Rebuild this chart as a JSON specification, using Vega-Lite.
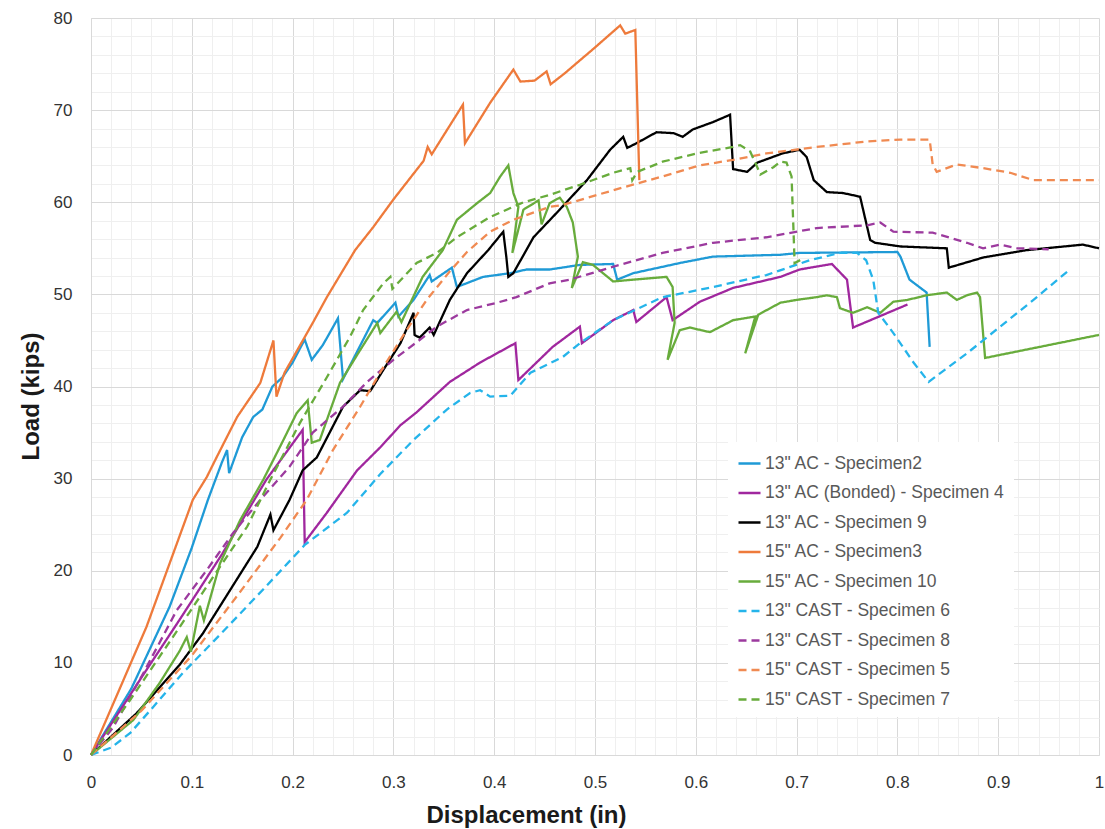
{
  "$schema": "https://vega.github.io/schema/vega-lite/v6.json",
  "width": 1008,
  "height": 737,
  "autosize": {"type": "none"},
  "padding": {"left": 91, "top": 18, "right": 6, "bottom": 74},
  "background": "white",
  "config": {"view": {"stroke": null}, "font": "Liberation Sans"},
  "data": {"values": [
    {"s":"13\" AC - Specimen2","x":0,"y":0},{"s":"13\" AC - Specimen2","x":0.04,"y":7.2},{"s":"13\" AC - Specimen2","x":0.078,"y":16.1},{"s":"13\" AC - Specimen2","x":0.1,"y":22.5},{"s":"13\" AC - Specimen2","x":0.116,"y":27.7},{"s":"13\" AC - Specimen2","x":0.13,"y":31.8},{"s":"13\" AC - Specimen2","x":0.135,"y":33.1},{"s":"13\" AC - Specimen2","x":0.137,"y":30.6},{"s":"13\" AC - Specimen2","x":0.15,"y":34.5},{"s":"13\" AC - Specimen2","x":0.161,"y":36.7},{"s":"13\" AC - Specimen2","x":0.17,"y":37.5},{"s":"13\" AC - Specimen2","x":0.18,"y":40},{"s":"13\" AC - Specimen2","x":0.19,"y":41},{"s":"13\" AC - Specimen2","x":0.2,"y":42.6},{"s":"13\" AC - Specimen2","x":0.212,"y":45.1},{"s":"13\" AC - Specimen2","x":0.219,"y":42.9},{"s":"13\" AC - Specimen2","x":0.23,"y":44.5},{"s":"13\" AC - Specimen2","x":0.245,"y":47.4},{"s":"13\" AC - Specimen2","x":0.25,"y":40.8},{"s":"13\" AC - Specimen2","x":0.265,"y":44},{"s":"13\" AC - Specimen2","x":0.28,"y":47.2},{"s":"13\" AC - Specimen2","x":0.284,"y":46.9},{"s":"13\" AC - Specimen2","x":0.302,"y":49.1},{"s":"13\" AC - Specimen2","x":0.305,"y":47.6},{"s":"13\" AC - Specimen2","x":0.32,"y":49.4},{"s":"13\" AC - Specimen2","x":0.336,"y":52.1},{"s":"13\" AC - Specimen2","x":0.338,"y":51.4},{"s":"13\" AC - Specimen2","x":0.358,"y":52.9},{"s":"13\" AC - Specimen2","x":0.363,"y":50.8},{"s":"13\" AC - Specimen2","x":0.389,"y":51.9},{"s":"13\" AC - Specimen2","x":0.416,"y":52.3},{"s":"13\" AC - Specimen2","x":0.432,"y":52.7},{"s":"13\" AC - Specimen2","x":0.455,"y":52.7},{"s":"13\" AC - Specimen2","x":0.485,"y":53.2},{"s":"13\" AC - Specimen2","x":0.518,"y":53.3},{"s":"13\" AC - Specimen2","x":0.522,"y":51.6},{"s":"13\" AC - Specimen2","x":0.538,"y":52.3},{"s":"13\" AC - Specimen2","x":0.584,"y":53.4},{"s":"13\" AC - Specimen2","x":0.617,"y":54.1},{"s":"13\" AC - Specimen2","x":0.684,"y":54.3},{"s":"13\" AC - Specimen2","x":0.703,"y":54.5},{"s":"13\" AC - Specimen2","x":0.8,"y":54.6},{"s":"13\" AC - Specimen2","x":0.803,"y":54.1},{"s":"13\" AC - Specimen2","x":0.812,"y":51.6},{"s":"13\" AC - Specimen2","x":0.829,"y":50.2},{"s":"13\" AC - Specimen2","x":0.832,"y":44.3},

    {"s":"13\" AC (Bonded) - Specimen 4","x":0,"y":0},{"s":"13\" AC (Bonded) - Specimen 4","x":0.05,"y":8.4},{"s":"13\" AC (Bonded) - Specimen 4","x":0.088,"y":14.7},{"s":"13\" AC (Bonded) - Specimen 4","x":0.13,"y":21.8},{"s":"13\" AC (Bonded) - Specimen 4","x":0.174,"y":29.9},{"s":"13\" AC (Bonded) - Specimen 4","x":0.21,"y":35.3},{"s":"13\" AC (Bonded) - Specimen 4","x":0.212,"y":23.1},{"s":"13\" AC (Bonded) - Specimen 4","x":0.234,"y":26.3},{"s":"13\" AC (Bonded) - Specimen 4","x":0.264,"y":30.9},{"s":"13\" AC (Bonded) - Specimen 4","x":0.287,"y":33.4},{"s":"13\" AC (Bonded) - Specimen 4","x":0.307,"y":35.8},{"s":"13\" AC (Bonded) - Specimen 4","x":0.323,"y":37.2},{"s":"13\" AC (Bonded) - Specimen 4","x":0.356,"y":40.5},{"s":"13\" AC (Bonded) - Specimen 4","x":0.386,"y":42.6},{"s":"13\" AC (Bonded) - Specimen 4","x":0.421,"y":44.7},{"s":"13\" AC (Bonded) - Specimen 4","x":0.424,"y":40.7},{"s":"13\" AC (Bonded) - Specimen 4","x":0.458,"y":44.3},{"s":"13\" AC (Bonded) - Specimen 4","x":0.485,"y":46.5},{"s":"13\" AC (Bonded) - Specimen 4","x":0.487,"y":44.7},{"s":"13\" AC (Bonded) - Specimen 4","x":0.518,"y":47.2},{"s":"13\" AC (Bonded) - Specimen 4","x":0.538,"y":48.3},{"s":"13\" AC (Bonded) - Specimen 4","x":0.541,"y":47},{"s":"13\" AC (Bonded) - Specimen 4","x":0.571,"y":49.7},{"s":"13\" AC (Bonded) - Specimen 4","x":0.577,"y":47.2},{"s":"13\" AC (Bonded) - Specimen 4","x":0.604,"y":49.2},{"s":"13\" AC (Bonded) - Specimen 4","x":0.637,"y":50.7},{"s":"13\" AC (Bonded) - Specimen 4","x":0.684,"y":51.9},{"s":"13\" AC (Bonded) - Specimen 4","x":0.703,"y":52.7},{"s":"13\" AC (Bonded) - Specimen 4","x":0.735,"y":53.3},{"s":"13\" AC (Bonded) - Specimen 4","x":0.75,"y":51.6},{"s":"13\" AC (Bonded) - Specimen 4","x":0.756,"y":46.4},{"s":"13\" AC (Bonded) - Specimen 4","x":0.81,"y":48.9},

    {"s":"13\" AC - Specimen 9","x":0,"y":0},{"s":"13\" AC - Specimen 9","x":0.045,"y":4.5},{"s":"13\" AC - Specimen 9","x":0.088,"y":9.8},{"s":"13\" AC - Specimen 9","x":0.111,"y":13.2},{"s":"13\" AC - Specimen 9","x":0.138,"y":17.9},{"s":"13\" AC - Specimen 9","x":0.165,"y":22.6},{"s":"13\" AC - Specimen 9","x":0.178,"y":26.1},{"s":"13\" AC - Specimen 9","x":0.181,"y":24.4},{"s":"13\" AC - Specimen 9","x":0.197,"y":27.7},{"s":"13\" AC - Specimen 9","x":0.21,"y":30.9},{"s":"13\" AC - Specimen 9","x":0.224,"y":32.3},{"s":"13\" AC - Specimen 9","x":0.25,"y":37.8},{"s":"13\" AC - Specimen 9","x":0.267,"y":39.6},{"s":"13\" AC - Specimen 9","x":0.277,"y":39.5},{"s":"13\" AC - Specimen 9","x":0.29,"y":41.8},{"s":"13\" AC - Specimen 9","x":0.307,"y":44.7},{"s":"13\" AC - Specimen 9","x":0.32,"y":48},{"s":"13\" AC - Specimen 9","x":0.321,"y":45.6},{"s":"13\" AC - Specimen 9","x":0.326,"y":45.3},{"s":"13\" AC - Specimen 9","x":0.336,"y":46.4},{"s":"13\" AC - Specimen 9","x":0.34,"y":45.6},{"s":"13\" AC - Specimen 9","x":0.356,"y":49.4},{"s":"13\" AC - Specimen 9","x":0.373,"y":52.3},{"s":"13\" AC - Specimen 9","x":0.394,"y":54.8},{"s":"13\" AC - Specimen 9","x":0.409,"y":56.8},{"s":"13\" AC - Specimen 9","x":0.412,"y":54.1},{"s":"13\" AC - Specimen 9","x":0.414,"y":51.9},{"s":"13\" AC - Specimen 9","x":0.419,"y":52.3},{"s":"13\" AC - Specimen 9","x":0.439,"y":56.2},{"s":"13\" AC - Specimen 9","x":0.465,"y":59.2},{"s":"13\" AC - Specimen 9","x":0.492,"y":62.4},{"s":"13\" AC - Specimen 9","x":0.515,"y":65.7},{"s":"13\" AC - Specimen 9","x":0.528,"y":67.1},{"s":"13\" AC - Specimen 9","x":0.532,"y":65.9},{"s":"13\" AC - Specimen 9","x":0.541,"y":66.4},{"s":"13\" AC - Specimen 9","x":0.561,"y":67.6},{"s":"13\" AC - Specimen 9","x":0.578,"y":67.5},{"s":"13\" AC - Specimen 9","x":0.587,"y":67.1},{"s":"13\" AC - Specimen 9","x":0.597,"y":67.9},{"s":"13\" AC - Specimen 9","x":0.617,"y":68.7},{"s":"13\" AC - Specimen 9","x":0.634,"y":69.5},{"s":"13\" AC - Specimen 9","x":0.637,"y":63.6},{"s":"13\" AC - Specimen 9","x":0.651,"y":63.3},{"s":"13\" AC - Specimen 9","x":0.661,"y":64.3},{"s":"13\" AC - Specimen 9","x":0.686,"y":65.3},{"s":"13\" AC - Specimen 9","x":0.703,"y":65.7},{"s":"13\" AC - Specimen 9","x":0.71,"y":64.9},{"s":"13\" AC - Specimen 9","x":0.717,"y":62.4},{"s":"13\" AC - Specimen 9","x":0.73,"y":61.1},{"s":"13\" AC - Specimen 9","x":0.746,"y":61},{"s":"13\" AC - Specimen 9","x":0.763,"y":60.6},{"s":"13\" AC - Specimen 9","x":0.773,"y":55.9},{"s":"13\" AC - Specimen 9","x":0.778,"y":55.6},{"s":"13\" AC - Specimen 9","x":0.803,"y":55.2},{"s":"13\" AC - Specimen 9","x":0.849,"y":55},{"s":"13\" AC - Specimen 9","x":0.851,"y":52.9},{"s":"13\" AC - Specimen 9","x":0.885,"y":54},{"s":"13\" AC - Specimen 9","x":0.928,"y":54.8},{"s":"13\" AC - Specimen 9","x":0.984,"y":55.4},{"s":"13\" AC - Specimen 9","x":1.0,"y":55},

    {"s":"15\" AC - Specimen3","x":0,"y":0},{"s":"15\" AC - Specimen3","x":0.055,"y":13.9},{"s":"15\" AC - Specimen3","x":0.101,"y":27.7},{"s":"15\" AC - Specimen3","x":0.115,"y":30.2},{"s":"15\" AC - Specimen3","x":0.125,"y":32.4},{"s":"15\" AC - Specimen3","x":0.145,"y":36.7},{"s":"15\" AC - Specimen3","x":0.168,"y":40.4},{"s":"15\" AC - Specimen3","x":0.181,"y":45},{"s":"15\" AC - Specimen3","x":0.184,"y":38.9},{"s":"15\" AC - Specimen3","x":0.192,"y":41.5},{"s":"15\" AC - Specimen3","x":0.22,"y":46.9},{"s":"15\" AC - Specimen3","x":0.234,"y":49.7},{"s":"15\" AC - Specimen3","x":0.262,"y":54.8},{"s":"15\" AC - Specimen3","x":0.28,"y":57.3},{"s":"15\" AC - Specimen3","x":0.29,"y":58.8},{"s":"15\" AC - Specimen3","x":0.3,"y":60.3},{"s":"15\" AC - Specimen3","x":0.33,"y":64.5},{"s":"15\" AC - Specimen3","x":0.334,"y":66},{"s":"15\" AC - Specimen3","x":0.338,"y":65.2},{"s":"15\" AC - Specimen3","x":0.369,"y":70.6},{"s":"15\" AC - Specimen3","x":0.371,"y":66.4},{"s":"15\" AC - Specimen3","x":0.396,"y":70.8},{"s":"15\" AC - Specimen3","x":0.419,"y":74.4},{"s":"15\" AC - Specimen3","x":0.426,"y":73.1},{"s":"15\" AC - Specimen3","x":0.44,"y":73.2},{"s":"15\" AC - Specimen3","x":0.452,"y":74.2},{"s":"15\" AC - Specimen3","x":0.456,"y":72.8},{"s":"15\" AC - Specimen3","x":0.47,"y":74},{"s":"15\" AC - Specimen3","x":0.5,"y":76.8},{"s":"15\" AC - Specimen3","x":0.525,"y":79.2},{"s":"15\" AC - Specimen3","x":0.53,"y":78.3},{"s":"15\" AC - Specimen3","x":0.54,"y":78.7},{"s":"15\" AC - Specimen3","x":0.544,"y":62.4},

    {"s":"15\" AC - Specimen 10","x":0,"y":0},{"s":"15\" AC - Specimen 10","x":0.042,"y":3.8},{"s":"15\" AC - Specimen 10","x":0.068,"y":7.8},{"s":"15\" AC - Specimen 10","x":0.088,"y":11.3},{"s":"15\" AC - Specimen 10","x":0.095,"y":12.8},{"s":"15\" AC - Specimen 10","x":0.099,"y":11.2},{"s":"15\" AC - Specimen 10","x":0.108,"y":16.2},{"s":"15\" AC - Specimen 10","x":0.112,"y":14.6},{"s":"15\" AC - Specimen 10","x":0.128,"y":20.8},{"s":"15\" AC - Specimen 10","x":0.148,"y":25.5},{"s":"15\" AC - Specimen 10","x":0.171,"y":29.9},{"s":"15\" AC - Specimen 10","x":0.19,"y":34},{"s":"15\" AC - Specimen 10","x":0.204,"y":37.1},{"s":"15\" AC - Specimen 10","x":0.215,"y":38.5},{"s":"15\" AC - Specimen 10","x":0.219,"y":33.9},{"s":"15\" AC - Specimen 10","x":0.227,"y":34.2},{"s":"15\" AC - Specimen 10","x":0.247,"y":40.4},{"s":"15\" AC - Specimen 10","x":0.265,"y":43.6},{"s":"15\" AC - Specimen 10","x":0.284,"y":46.9},{"s":"15\" AC - Specimen 10","x":0.287,"y":45.8},{"s":"15\" AC - Specimen 10","x":0.303,"y":48.1},{"s":"15\" AC - Specimen 10","x":0.308,"y":47},{"s":"15\" AC - Specimen 10","x":0.329,"y":51.9},{"s":"15\" AC - Specimen 10","x":0.349,"y":54.8},{"s":"15\" AC - Specimen 10","x":0.363,"y":58.1},{"s":"15\" AC - Specimen 10","x":0.383,"y":59.9},{"s":"15\" AC - Specimen 10","x":0.396,"y":61},{"s":"15\" AC - Specimen 10","x":0.406,"y":62.8},{"s":"15\" AC - Specimen 10","x":0.414,"y":64},{"s":"15\" AC - Specimen 10","x":0.419,"y":61},{"s":"15\" AC - Specimen 10","x":0.424,"y":59.5},{"s":"15\" AC - Specimen 10","x":0.418,"y":54.5},{"s":"15\" AC - Specimen 10","x":0.429,"y":59.2},{"s":"15\" AC - Specimen 10","x":0.444,"y":60.2},{"s":"15\" AC - Specimen 10","x":0.447,"y":57.6},{"s":"15\" AC - Specimen 10","x":0.455,"y":59.9},{"s":"15\" AC - Specimen 10","x":0.465,"y":60.5},{"s":"15\" AC - Specimen 10","x":0.472,"y":59.5},{"s":"15\" AC - Specimen 10","x":0.478,"y":57.8},{"s":"15\" AC - Specimen 10","x":0.483,"y":54.1},{"s":"15\" AC - Specimen 10","x":0.477,"y":50.7},{"s":"15\" AC - Specimen 10","x":0.488,"y":53.5},{"s":"15\" AC - Specimen 10","x":0.498,"y":53.2},{"s":"15\" AC - Specimen 10","x":0.518,"y":51.4},{"s":"15\" AC - Specimen 10","x":0.538,"y":51.6},{"s":"15\" AC - Specimen 10","x":0.571,"y":51.9},{"s":"15\" AC - Specimen 10","x":0.577,"y":50.8},{"s":"15\" AC - Specimen 10","x":0.579,"y":46.9},{"s":"15\" AC - Specimen 10","x":0.572,"y":42.9},{"s":"15\" AC - Specimen 10","x":0.584,"y":46.1},{"s":"15\" AC - Specimen 10","x":0.594,"y":46.4},{"s":"15\" AC - Specimen 10","x":0.614,"y":45.9},{"s":"15\" AC - Specimen 10","x":0.637,"y":47.2},{"s":"15\" AC - Specimen 10","x":0.659,"y":47.6},{"s":"15\" AC - Specimen 10","x":0.649,"y":43.6},{"s":"15\" AC - Specimen 10","x":0.662,"y":47.8},{"s":"15\" AC - Specimen 10","x":0.684,"y":49.1},{"s":"15\" AC - Specimen 10","x":0.7,"y":49.4},{"s":"15\" AC - Specimen 10","x":0.72,"y":49.7},{"s":"15\" AC - Specimen 10","x":0.73,"y":49.9},{"s":"15\" AC - Specimen 10","x":0.74,"y":49.7},{"s":"15\" AC - Specimen 10","x":0.743,"y":48.5},{"s":"15\" AC - Specimen 10","x":0.756,"y":48},{"s":"15\" AC - Specimen 10","x":0.77,"y":48.6},{"s":"15\" AC - Specimen 10","x":0.783,"y":48},{"s":"15\" AC - Specimen 10","x":0.796,"y":49.2},{"s":"15\" AC - Specimen 10","x":0.81,"y":49.4},{"s":"15\" AC - Specimen 10","x":0.829,"y":49.9},{"s":"15\" AC - Specimen 10","x":0.849,"y":50.2},{"s":"15\" AC - Specimen 10","x":0.859,"y":49.4},{"s":"15\" AC - Specimen 10","x":0.869,"y":49.9},{"s":"15\" AC - Specimen 10","x":0.879,"y":50.2},{"s":"15\" AC - Specimen 10","x":0.882,"y":49.7},{"s":"15\" AC - Specimen 10","x":0.887,"y":43.1},{"s":"15\" AC - Specimen 10","x":1.0,"y":45.6},

    {"s":"13\" CAST - Specimen 6","x":0,"y":0},{"s":"13\" CAST - Specimen 6","x":0.02,"y":0.8},{"s":"13\" CAST - Specimen 6","x":0.039,"y":2.4},{"s":"13\" CAST - Specimen 6","x":0.06,"y":5},{"s":"13\" CAST - Specimen 6","x":0.091,"y":8.9},{"s":"13\" CAST - Specimen 6","x":0.131,"y":13.4},{"s":"13\" CAST - Specimen 6","x":0.171,"y":18},{"s":"13\" CAST - Specimen 6","x":0.212,"y":22.8},{"s":"13\" CAST - Specimen 6","x":0.254,"y":26.3},{"s":"13\" CAST - Specimen 6","x":0.287,"y":30.5},{"s":"13\" CAST - Specimen 6","x":0.32,"y":34.2},{"s":"13\" CAST - Specimen 6","x":0.353,"y":37.5},{"s":"13\" CAST - Specimen 6","x":0.376,"y":39.3},{"s":"13\" CAST - Specimen 6","x":0.386,"y":39.6},{"s":"13\" CAST - Specimen 6","x":0.396,"y":38.9},{"s":"13\" CAST - Specimen 6","x":0.416,"y":39},{"s":"13\" CAST - Specimen 6","x":0.436,"y":41.5},{"s":"13\" CAST - Specimen 6","x":0.468,"y":43.2},{"s":"13\" CAST - Specimen 6","x":0.485,"y":44.7},{"s":"13\" CAST - Specimen 6","x":0.518,"y":47.2},{"s":"13\" CAST - Specimen 6","x":0.567,"y":49.7},{"s":"13\" CAST - Specimen 6","x":0.604,"y":50.5},{"s":"13\" CAST - Specimen 6","x":0.617,"y":50.8},{"s":"13\" CAST - Specimen 6","x":0.67,"y":52.1},{"s":"13\" CAST - Specimen 6","x":0.713,"y":53.7},{"s":"13\" CAST - Specimen 6","x":0.743,"y":54.5},{"s":"13\" CAST - Specimen 6","x":0.76,"y":54.5},{"s":"13\" CAST - Specimen 6","x":0.769,"y":53.7},{"s":"13\" CAST - Specimen 6","x":0.776,"y":51.6},{"s":"13\" CAST - Specimen 6","x":0.781,"y":48},{"s":"13\" CAST - Specimen 6","x":0.796,"y":45.8},{"s":"13\" CAST - Specimen 6","x":0.816,"y":42.6},{"s":"13\" CAST - Specimen 6","x":0.831,"y":40.5},{"s":"13\" CAST - Specimen 6","x":0.869,"y":43.6},{"s":"13\" CAST - Specimen 6","x":0.902,"y":46.5},{"s":"13\" CAST - Specimen 6","x":0.935,"y":49.4},{"s":"13\" CAST - Specimen 6","x":0.971,"y":52.7},

    {"s":"13\" CAST - Specimen 8","x":0,"y":0},{"s":"13\" CAST - Specimen 8","x":0.022,"y":3},{"s":"13\" CAST - Specimen 8","x":0.052,"y":8.9},{"s":"13\" CAST - Specimen 8","x":0.085,"y":15.7},{"s":"13\" CAST - Specimen 8","x":0.115,"y":20.1},{"s":"13\" CAST - Specimen 8","x":0.141,"y":24.1},{"s":"13\" CAST - Specimen 8","x":0.168,"y":27.7},{"s":"13\" CAST - Specimen 8","x":0.197,"y":31.3},{"s":"13\" CAST - Specimen 8","x":0.22,"y":35},{"s":"13\" CAST - Specimen 8","x":0.25,"y":37.8},{"s":"13\" CAST - Specimen 8","x":0.274,"y":40.5},{"s":"13\" CAST - Specimen 8","x":0.3,"y":42.9},{"s":"13\" CAST - Specimen 8","x":0.323,"y":44.8},{"s":"13\" CAST - Specimen 8","x":0.343,"y":46.5},{"s":"13\" CAST - Specimen 8","x":0.373,"y":48.3},{"s":"13\" CAST - Specimen 8","x":0.403,"y":49.1},{"s":"13\" CAST - Specimen 8","x":0.422,"y":49.7},{"s":"13\" CAST - Specimen 8","x":0.455,"y":51.2},{"s":"13\" CAST - Specimen 8","x":0.475,"y":51.6},{"s":"13\" CAST - Specimen 8","x":0.518,"y":53},{"s":"13\" CAST - Specimen 8","x":0.567,"y":54.5},{"s":"13\" CAST - Specimen 8","x":0.617,"y":55.6},{"s":"13\" CAST - Specimen 8","x":0.67,"y":56.2},{"s":"13\" CAST - Specimen 8","x":0.72,"y":57.2},{"s":"13\" CAST - Specimen 8","x":0.77,"y":57.5},{"s":"13\" CAST - Specimen 8","x":0.783,"y":57.8},{"s":"13\" CAST - Specimen 8","x":0.796,"y":56.8},{"s":"13\" CAST - Specimen 8","x":0.835,"y":56.7},{"s":"13\" CAST - Specimen 8","x":0.869,"y":55.6},{"s":"13\" CAST - Specimen 8","x":0.885,"y":55},{"s":"13\" CAST - Specimen 8","x":0.902,"y":55.4},{"s":"13\" CAST - Specimen 8","x":0.919,"y":55},{"s":"13\" CAST - Specimen 8","x":0.95,"y":54.9},

    {"s":"15\" CAST - Specimen 5","x":0,"y":0},{"s":"15\" CAST - Specimen 5","x":0.05,"y":4.8},{"s":"15\" CAST - Specimen 5","x":0.1,"y":10.8},{"s":"15\" CAST - Specimen 5","x":0.15,"y":18},{"s":"15\" CAST - Specimen 5","x":0.188,"y":23.6},{"s":"15\" CAST - Specimen 5","x":0.214,"y":27.7},{"s":"15\" CAST - Specimen 5","x":0.24,"y":33.1},{"s":"15\" CAST - Specimen 5","x":0.267,"y":37.8},{"s":"15\" CAST - Specimen 5","x":0.29,"y":42.1},{"s":"15\" CAST - Specimen 5","x":0.313,"y":46.1},{"s":"15\" CAST - Specimen 5","x":0.333,"y":49.4},{"s":"15\" CAST - Specimen 5","x":0.356,"y":52.5},{"s":"15\" CAST - Specimen 5","x":0.373,"y":54.6},{"s":"15\" CAST - Specimen 5","x":0.396,"y":56.8},{"s":"15\" CAST - Specimen 5","x":0.419,"y":58.1},{"s":"15\" CAST - Specimen 5","x":0.455,"y":59.5},{"s":"15\" CAST - Specimen 5","x":0.468,"y":59.7},{"s":"15\" CAST - Specimen 5","x":0.518,"y":61.3},{"s":"15\" CAST - Specimen 5","x":0.567,"y":62.8},{"s":"15\" CAST - Specimen 5","x":0.604,"y":64},{"s":"15\" CAST - Specimen 5","x":0.637,"y":64.6},{"s":"15\" CAST - Specimen 5","x":0.67,"y":65.3},{"s":"15\" CAST - Specimen 5","x":0.72,"y":66},{"s":"15\" CAST - Specimen 5","x":0.77,"y":66.6},{"s":"15\" CAST - Specimen 5","x":0.803,"y":66.8},{"s":"15\" CAST - Specimen 5","x":0.832,"y":66.8},{"s":"15\" CAST - Specimen 5","x":0.835,"y":64.1},{"s":"15\" CAST - Specimen 5","x":0.839,"y":63.3},{"s":"15\" CAST - Specimen 5","x":0.859,"y":64.1},{"s":"15\" CAST - Specimen 5","x":0.885,"y":63.7},{"s":"15\" CAST - Specimen 5","x":0.912,"y":63.2},{"s":"15\" CAST - Specimen 5","x":0.935,"y":62.4},{"s":"15\" CAST - Specimen 5","x":0.968,"y":62.4},{"s":"15\" CAST - Specimen 5","x":1.0,"y":62.4},

    {"s":"15\" CAST - Specimen 7","x":0,"y":0},{"s":"15\" CAST - Specimen 7","x":0.039,"y":6},{"s":"15\" CAST - Specimen 7","x":0.088,"y":13.9},{"s":"15\" CAST - Specimen 7","x":0.121,"y":19.3},{"s":"15\" CAST - Specimen 7","x":0.155,"y":24.8},{"s":"15\" CAST - Specimen 7","x":0.178,"y":29.9},{"s":"15\" CAST - Specimen 7","x":0.207,"y":36},{"s":"15\" CAST - Specimen 7","x":0.234,"y":41},{"s":"15\" CAST - Specimen 7","x":0.257,"y":45.4},{"s":"15\" CAST - Specimen 7","x":0.27,"y":48.3},{"s":"15\" CAST - Specimen 7","x":0.29,"y":51.2},{"s":"15\" CAST - Specimen 7","x":0.297,"y":51.9},{"s":"15\" CAST - Specimen 7","x":0.299,"y":50.6},{"s":"15\" CAST - Specimen 7","x":0.323,"y":53.4},{"s":"15\" CAST - Specimen 7","x":0.343,"y":54.5},{"s":"15\" CAST - Specimen 7","x":0.363,"y":56.2},{"s":"15\" CAST - Specimen 7","x":0.396,"y":58.4},{"s":"15\" CAST - Specimen 7","x":0.429,"y":60},{"s":"15\" CAST - Specimen 7","x":0.455,"y":60.8},{"s":"15\" CAST - Specimen 7","x":0.485,"y":61.9},{"s":"15\" CAST - Specimen 7","x":0.518,"y":63.2},{"s":"15\" CAST - Specimen 7","x":0.535,"y":63.7},{"s":"15\" CAST - Specimen 7","x":0.537,"y":62.4},{"s":"15\" CAST - Specimen 7","x":0.542,"y":63.3},{"s":"15\" CAST - Specimen 7","x":0.567,"y":64.4},{"s":"15\" CAST - Specimen 7","x":0.601,"y":65.3},{"s":"15\" CAST - Specimen 7","x":0.637,"y":66},{"s":"15\" CAST - Specimen 7","x":0.644,"y":66.2},{"s":"15\" CAST - Specimen 7","x":0.654,"y":65.5},{"s":"15\" CAST - Specimen 7","x":0.661,"y":63.8},{"s":"15\" CAST - Specimen 7","x":0.664,"y":63},{"s":"15\" CAST - Specimen 7","x":0.677,"y":63.8},{"s":"15\" CAST - Specimen 7","x":0.684,"y":64.4},{"s":"15\" CAST - Specimen 7","x":0.69,"y":64.3},{"s":"15\" CAST - Specimen 7","x":0.695,"y":62.8},{"s":"15\" CAST - Specimen 7","x":0.697,"y":56.7},{"s":"15\" CAST - Specimen 7","x":0.698,"y":53.4},{"s":"15\" CAST - Specimen 7","x":0.705,"y":53.8}
  ]},
  "mark": {"type": "line", "strokeWidth": 2.3, "interpolate": "linear"},
  "encoding": {
    "x": {
      "field": "x", "type": "quantitative",
      "scale": {"domain": [0, 1], "nice": false, "zero": true},
      "axis": {
        "title": "Displacement (in)",
        "titleFont": "Liberation Sans", "titleFontSize": 24, "titleFontWeight": "bold", "titleColor": "#1a1a1a", "titlePadding": 13,
        "titleX": 435, "titleAlign": "center",
        "values": [0,0.02,0.04,0.06,0.08,0.1,0.12,0.14,0.16,0.18,0.2,0.22,0.24,0.26,0.28,0.3,0.32,0.34,0.36,0.38,0.4,0.42,0.44,0.46,0.48,0.5,0.52,0.54,0.56,0.58,0.6,0.62,0.64,0.66,0.68,0.7,0.72,0.74,0.76,0.78,0.8,0.82,0.84,0.86,0.88,0.9,0.92,0.94,0.96,0.98,1],
        "labelExpr": "round(datum.value*50)%5==0 ? format(datum.value, '~g') : ''",
        "labelFontSize": 17, "labelColor": "#333333", "labelPadding": 19, "labelFlush": false, "labelOverlap": false,
        "ticks": false, "domainColor": "#d9d9d9", "domainWidth": 1,
        "grid": true,
        "gridColor": {"condition": {"test": "round(datum.value*50)%5==0", "value": "#d9d9d9"}, "value": "#efefef"},
        "gridWidth": 1
      }
    },
    "y": {
      "field": "y", "type": "quantitative",
      "scale": {"domain": [0, 80], "nice": false},
      "axis": {
        "title": "Load (kips)",
        "titleFont": "Liberation Sans", "titleFontSize": 24, "titleFontWeight": "bold", "titleColor": "#1a1a1a", "titlePadding": 10,
        "titleY": 378, "titleAlign": "center",
        "values": [0,2,4,6,8,10,12,14,16,18,20,22,24,26,28,30,32,34,36,38,40,42,44,46,48,50,52,54,56,58,60,62,64,66,68,70,72,74,76,78,80],
        "labelExpr": "datum.value%10==0 ? format(datum.value, 'd') : ''",
        "labelFontSize": 17, "labelColor": "#333333", "labelPadding": 19, "labelFlush": false, "labelOverlap": false,
        "ticks": false, "domainColor": "#d9d9d9", "domainWidth": 1,
        "grid": true,
        "gridColor": {"condition": {"test": "datum.value%10==0", "value": "#d9d9d9"}, "value": "#efefef"},
        "gridWidth": 1
      }
    },
    "color": {
      "field": "s", "type": "nominal",
      "scale": {
        "domain": ["13\" AC - Specimen2","13\" AC (Bonded) - Specimen 4","13\" AC - Specimen 9","15\" AC - Specimen3","15\" AC - Specimen 10","13\" CAST - Specimen 6","13\" CAST - Specimen 8","15\" CAST - Specimen 5","15\" CAST - Specimen 7"],
        "range": ["#1f9ad6","#a0279e","#000000","#ee7a3b","#68ac3c","#25b4ea","#9c3a9e","#f08a52","#68ac3c"]
      },
      "legend": {
        "title": null, "orient": "none", "legendX": 637, "legendY": 424,
        "fillColor": "white", "padding": 9,
        "symbolType": "stroke", "symbolSize": 484, "symbolStrokeWidth": 2.5,
        "labelFont": "Liberation Sans", "labelFontSize": 17.5, "labelColor": "#595959", "labelOffset": 3,
        "rowPadding": 8.5, "labelLimit": 400
      }
    },
    "strokeDash": {
      "field": "s", "type": "nominal",
      "scale": {
        "domain": ["13\" AC - Specimen2","13\" AC (Bonded) - Specimen 4","13\" AC - Specimen 9","15\" AC - Specimen3","15\" AC - Specimen 10","13\" CAST - Specimen 6","13\" CAST - Specimen 8","15\" CAST - Specimen 5","15\" CAST - Specimen 7"],
        "range": [[1,0],[1,0],[1,0],[1,0],[1,0],[8,5],[8,5],[8,5],[8,5]]
      },
      "legend": {
        "title": null, "orient": "none", "legendX": 637, "legendY": 424,
        "fillColor": "white", "padding": 9,
        "symbolType": "stroke", "symbolSize": 484, "symbolStrokeWidth": 2.5,
        "labelFont": "Liberation Sans", "labelFontSize": 17.5, "labelColor": "#595959", "labelOffset": 3,
        "rowPadding": 8.5, "labelLimit": 400
      }
    },
    "order": {"value": null}
  }
}
